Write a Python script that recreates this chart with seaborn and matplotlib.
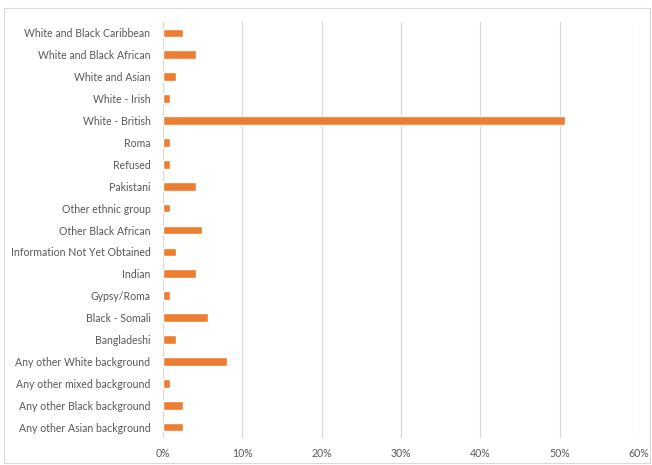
import matplotlib
matplotlib.use("Agg")
import matplotlib.pyplot as plt
import seaborn as sns
import pandas as pd
from matplotlib.patches import Rectangle
from matplotlib.ticker import PercentFormatter

categories = [
    "White and Black Caribbean", "White and Black African", "White and Asian",
    "White - Irish", "White - British", "Roma", "Refused", "Pakistani",
    "Other ethnic group", "Other Black African", "Information Not Yet Obtained",
    "Indian", "Gypsy/Roma", "Black - Somali", "Bangladeshi",
    "Any other White background", "Any other mixed background",
    "Any other Black background", "Any other Asian background",
]
values = [2.5, 4.1, 1.6, 0.85, 50.7, 0.85, 0.85, 4.1, 0.85, 4.9, 1.6, 4.1, 0.85,
          5.7, 1.6, 8.1, 0.85, 2.5, 2.5]
x_ticks = [0, 10, 20, 30, 40, 50, 60]

df = pd.DataFrame({"category": categories, "value": values})

sns.set_theme(style="white")
plt.rcParams["font.family"] = ["Lato", "DejaVu Sans"]

fig = plt.figure(figsize=(6.52, 4.65), dpi=100)
ax = fig.add_axes([163 / 652, 1 - 438 / 465, (639 - 163) / 652, (438 - 22) / 465])

sns.barplot(data=df, x="value", y="category", orient="h", color="#ED7D31",
            width=0.4, saturation=1, ax=ax)

ax.set_xlim(0, 60)
ax.set_xticks(x_ticks)
ax.xaxis.set_major_formatter(PercentFormatter(decimals=0))
ax.grid(axis="x", color="#D9D9D9", linewidth=0.9)
ax.set_axisbelow(True)
for s in ax.spines.values():
    s.set_visible(False)
ax.set_xlabel("")
ax.set_ylabel("")
ax.tick_params(axis="both", length=0, labelsize=7.6, colors="#595959", pad=9)
ax.tick_params(axis="x", pad=7)

fig.patches.append(Rectangle((4 / 652, 2 / 465), 646 / 652, 455 / 465,
                             transform=fig.transFigure, fill=False,
                             edgecolor="#D9D9D9", linewidth=0.8))

fig.savefig("out.png", dpi=100)
